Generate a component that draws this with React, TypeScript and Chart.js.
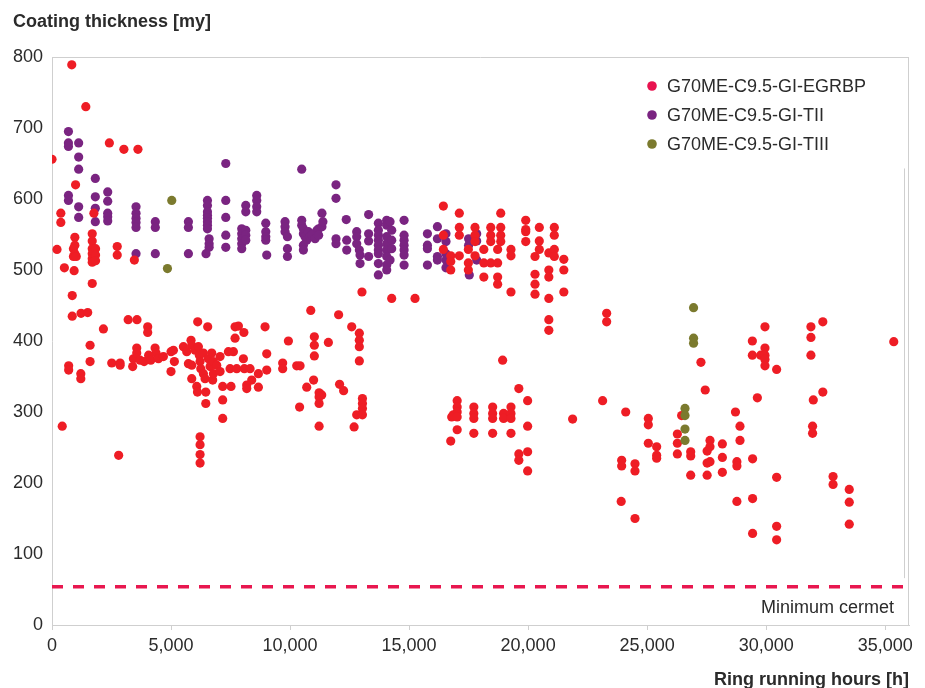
import React, { useEffect, useRef } from "react";
import { Chart, registerables } from "chart.js";

Chart.register(...registerables);

// Axis settings
const xMax = 36000;
const xTickValues = [0, 5000, 10000, 15000, 20000, 25000, 30000, 35000];
const yMax = 800;
const yStep = 100;

const seriesNames = ["G70ME-C9.5-GI-EGRBP", "G70ME-C9.5-GI-TII", "G70ME-C9.5-GI-TIII"];
const seriesColors = ["#ee1d25", "#7a2481", "#7b7a2e"];
const legendColors = ["#e8124f", "#7a2481", "#7b7a2e"];

const minimumCermet = 54;
const minimumCermetLabel = "Minimum cermet";
const yTitle = "Coating thickness [my]";
const xTitle = "Ring running hours [h]";

// [ring running hours, coating thickness]
const egrbpPoints: [number, number][] = [
  [0, 656], [430, 280], [210, 529], [370, 580], [370, 567], [520, 503], [830, 789], [1420, 730], [990, 620],
  [960, 546], [960, 535], [900, 530], [960, 523], [900, 519], [1020, 519], [930, 499],
  [850, 464], [850, 435], [1220, 439], [1500, 440],
  [1690, 551], [1690, 541], [1690, 530], [1690, 523], [1690, 516], [1690, 511], [1690, 481],
  [1830, 530], [1830, 521], [1830, 513], [1760, 580],
  [2160, 417], [2410, 679], [2740, 533], [2740, 521], [3020, 670], [3610, 670], [3460, 514],
  [3200, 430], [3570, 430], [4020, 420], [4020, 412],
  [700, 365], [700, 359], [1210, 354], [1210, 347], [1600, 394], [1600, 371],
  [2510, 369], [2860, 369], [2860, 366], [2800, 239],
  [3390, 364], [3420, 375], [3560, 390], [3560, 383], [3700, 373], [3870, 371], [4060, 380], [4150, 373],
  [4330, 390], [4370, 383], [4470, 375], [4680, 378], [5000, 385], [5000, 357], [5100, 387], [5140, 371],
  [5520, 392], [5660, 385], [5730, 368], [5840, 401], [5870, 394], [5870, 366], [5870, 347], [6010, 387],
  [6080, 336], [6110, 328], [6150, 392], [6190, 380], [6220, 371], [6250, 361], [6360, 383], [6360, 354],
  [6430, 347], [6460, 328], [6460, 312], [6570, 375], [6640, 364], [6710, 383], [6750, 345], [6780, 354],
  [6780, 371], [6920, 366], [7060, 378], [7060, 357], [7170, 336], [7170, 317], [7170, 291], [7410, 385],
  [7480, 361], [7520, 336], [7620, 385], [7760, 361],
  [6220, 265], [6220, 254], [6220, 240], [6220, 228],
  [6120, 427], [6540, 420], [7690, 420], [7830, 421], [7690, 404],
  [8950, 420], [8060, 412], [9930, 400], [11020, 406], [11020, 394], [11020, 379], [11610, 398],
  [10870, 443], [12040, 437], [12590, 420], [12910, 411], [12910, 401], [12910, 392], [12910, 372],
  [13020, 469], [14270, 460], [15250, 460], [9020, 382],
  [8040, 375], [8080, 361], [8320, 361], [8390, 345], [8180, 338], [8180, 333], [8670, 354], [8670, 335],
  [9020, 359], [9690, 369], [9690, 361], [10280, 365], [10420, 365], [10700, 335], [10400, 307], [10990, 345],
  [11220, 327], [11330, 324], [11220, 321], [11220, 312], [11220, 280], [12080, 339], [12250, 330], [12690, 279],
  [13040, 319], [13040, 312], [13040, 305], [12800, 296], [13040, 296],
  [16440, 590], [17110, 580], [18850, 580], [17110, 560], [17110, 549], [16440, 549], [16440, 529],
  [16750, 520], [16750, 512], [16750, 500], [17110, 520], [17490, 529], [17490, 510], [17490, 500],
  [17770, 560], [17770, 549], [17770, 540], [17770, 520], [18140, 529], [18140, 510], [18140, 490],
  [18430, 560], [18430, 549], [18430, 540], [18430, 510], [18720, 529], [18720, 510], [18720, 490], [18720, 480],
  [18850, 560], [18850, 549], [18850, 540], [19280, 529], [19280, 520], [19280, 469],
  [19900, 570], [19900, 557], [19900, 554], [19900, 540], [20290, 519], [20290, 494], [20290, 480], [20290, 466],
  [20470, 560], [20470, 541], [20470, 529], [20870, 524], [20870, 500], [20870, 490], [20870, 460],
  [20870, 430], [20870, 415], [21100, 560], [21100, 549], [21100, 529], [21100, 519],
  [21500, 515], [21500, 500], [21500, 469],
  [23300, 439], [23300, 427], [18930, 373], [19610, 333], [19980, 316], [19980, 280], [19610, 241], [19610, 232],
  [19980, 244], [19980, 217], [21870, 290], [23130, 316], [24100, 300],
  [17020, 316], [17020, 307], [17020, 300], [16860, 296], [16790, 293], [17020, 293], [16750, 259], [17020, 275],
  [17720, 307], [17720, 298], [17720, 291], [17720, 270], [18510, 307], [18510, 298], [18510, 291], [18510, 270],
  [18970, 298], [18970, 291], [19280, 307], [19280, 298], [19280, 291], [19280, 270],
  [25050, 291], [25050, 282], [25050, 256], [23930, 232], [23930, 224], [24490, 227], [24490, 217],
  [25400, 251], [25400, 239], [25400, 235], [23910, 174], [24490, 150], [26270, 269], [26270, 256], [26270, 241],
  [26450, 295], [26830, 244], [26830, 238], [26830, 211], [27260, 370], [27440, 331], [27640, 260], [27640, 251],
  [27520, 245], [27520, 228], [27640, 230], [27520, 211], [28160, 255], [28160, 236], [28160, 215], [28710, 300],
  [28900, 280], [28900, 260], [28770, 230], [28770, 224], [28770, 174], [29430, 234], [29430, 178], [29430, 129],
  [29420, 400], [29420, 380], [29630, 320],
  [29950, 420], [29770, 380], [29950, 390], [29950, 380], [29950, 374], [29950, 365], [30440, 360],
  [31880, 420], [31880, 405], [31880, 380], [32380, 427], [32380, 328], [31980, 317], [31950, 280], [31950, 270],
  [35360, 399], [30440, 208], [30440, 139], [30440, 120], [32810, 209], [32810, 198],
  [33490, 191], [33490, 173], [33490, 142],
];

const tiiPoints: [number, number][] = [
  [690, 695], [690, 679], [690, 674], [1120, 679], [1120, 659], [1120, 642], [690, 605], [690, 598],
  [1120, 589], [1120, 574], [1820, 629], [1820, 603], [1820, 587], [1820, 568],
  [2340, 610], [2340, 597], [2340, 580], [2340, 575], [2340, 569],
  [3530, 589], [3530, 580], [3530, 573], [3530, 567], [3530, 560], [4340, 568], [4340, 560],
  [5730, 568], [5730, 560], [3530, 523], [4340, 523], [5730, 523],
  [6530, 598], [6530, 591], [6530, 582], [6530, 577], [6530, 573], [6530, 568], [6530, 563], [6530, 558],
  [6600, 544], [6600, 537], [6600, 532], [6470, 523],
  [7300, 650], [7300, 598], [7300, 574], [7300, 549], [7300, 532],
  [8140, 591], [8140, 582], [7970, 558], [7970, 551], [7970, 544], [7970, 537], [7970, 530],
  [8140, 556], [8140, 549], [8140, 542],
  [8600, 605], [8600, 598], [8600, 589], [8600, 582],
  [8980, 566], [8980, 554], [8980, 547], [8980, 542], [9020, 521],
  [9790, 568], [9790, 561], [9790, 554], [9890, 547], [9890, 530], [9890, 519],
  [10490, 570], [10490, 563], [10560, 558], [10560, 551], [10630, 547], [10700, 542], [10560, 535], [10560, 528],
  [10770, 554], [10980, 551], [11130, 556], [11200, 558], [11340, 561], [11380, 568], [11340, 580],
  [10840, 547], [10910, 549], [11050, 544], [11200, 549],
  [10490, 642], [11930, 620], [11930, 601], [11930, 544], [11930, 537], [12360, 571], [12380, 542], [12380, 528],
  [12800, 554], [12800, 547], [12800, 537], [12910, 528], [12940, 521], [12940, 509],
  [13300, 578], [13300, 551], [13300, 541], [13300, 519],
  [13710, 566], [13710, 556], [13710, 549], [13710, 542], [13710, 535], [13710, 528], [13710, 523], [13710, 509], [13710, 493],
  [14060, 570], [14060, 563], [14060, 547], [14060, 537], [14060, 528], [14060, 519], [14060, 507], [14060, 500],
  [14200, 568], [14270, 556], [14270, 542], [14270, 530], [14200, 514],
  [14790, 570], [14790, 549], [14790, 542], [14790, 535], [14790, 528], [14790, 521], [14790, 507],
  [15770, 551], [15770, 535], [15770, 530], [15770, 507],
  [16190, 561], [16190, 544], [16190, 519], [16190, 514],
  [16550, 551], [16550, 540], [16550, 523], [16550, 514], [16550, 503],
  [17500, 544], [17500, 535], [17570, 540], [17530, 493],
  [17840, 551], [17840, 541], [17840, 514],
];

const tiiiPoints: [number, number][] = [
  [5030, 598], [4850, 502], [26950, 447], [26950, 404], [26950, 397],
  [26590, 305], [26590, 295], [26590, 276], [26590, 260],
];

const FONT = "'Liberation Sans', Arial, Helvetica, sans-serif";
const TEXT = "#2b2b2b";
const FRAME = "#cfcfcf";

const withCommas = (v: number) => String(v).replace(/\B(?=(\d{3})+(?!\d))/g, ",");

const toXY = (pts: [number, number][]) => pts.map(([x, y]) => ({ x, y }));

// Plot frame: top and right edges plus the faint inner rule near the right side
const framePlugin = {
  id: "frame",
  beforeDatasetsDraw(chart: any) {
    const { ctx, chartArea } = chart;
    const { left, right, top, bottom } = chartArea;
    ctx.save();
    ctx.strokeStyle = FRAME;
    ctx.lineWidth = 1;
    ctx.beginPath();
    ctx.moveTo(left, top + 0.5);
    ctx.lineTo(right, top + 0.5);
    ctx.moveTo(right - 0.5, top);
    ctx.lineTo(right - 0.5, bottom);
    ctx.stroke();
    const yS = chart.scales.y;
    ctx.beginPath();
    ctx.moveTo(right - 4.5, yS.getPixelForValue(643));
    ctx.lineTo(right - 4.5, yS.getPixelForValue(66));
    ctx.stroke();
    ctx.restore();
  },
};

// Titles, legend and the minimum-cermet label
const textPlugin = {
  id: "texts",
  afterDraw(chart: any) {
    const { ctx, chartArea } = chart;
    ctx.save();
    ctx.fillStyle = TEXT;
    ctx.font = `bold 18px ${FONT}`;
    ctx.textBaseline = "alphabetic";
    ctx.textAlign = "left";
    ctx.fillText(yTitle, 13, 27);
    ctx.textAlign = "right";
    ctx.fillText(xTitle, chartArea.right, 685);

    ctx.font = `18px ${FONT}`;
    const yS = chart.scales.y;
    ctx.fillText(minimumCermetLabel, chartArea.right - 15, yS.getPixelForValue(minimumCermet) + 26);

    ctx.textAlign = "left";
    ctx.textBaseline = "middle";
    seriesNames.forEach((name, i) => {
      const cy = 86 + i * 29;
      ctx.fillStyle = legendColors[i];
      ctx.beginPath();
      ctx.arc(652, cy, 4.8, 0, Math.PI * 2);
      ctx.fill();
      ctx.fillStyle = TEXT;
      ctx.fillText(name, 667, cy + 1);
    });
    ctx.restore();
  },
};

export default function App() {
  const canvasRef = useRef<HTMLCanvasElement | null>(null);

  useEffect(() => {
    if (!canvasRef.current) return;
    const pointStyle = (i: number) => ({
      backgroundColor: seriesColors[i],
      borderWidth: 0,
      pointRadius: 4.6,
      pointHoverRadius: 4.6,
      showLine: false,
      clip: 0,
    });
    const chart = new Chart(canvasRef.current, {
      type: "scatter",
      data: {
        datasets: [
          { label: seriesNames[0], data: toXY(egrbpPoints), order: 1, ...pointStyle(0) },
          { label: seriesNames[1], data: toXY(tiiPoints), order: 2, ...pointStyle(1) },
          { label: seriesNames[2], data: toXY(tiiiPoints), order: 0, ...pointStyle(2) },
          {
            type: "line",
            label: minimumCermetLabel,
            data: [
              { x: 0, y: minimumCermet },
              { x: xMax, y: minimumCermet },
            ],
            borderColor: "#e8174f",
            borderWidth: 3.5,
            borderDash: [11, 10],
            pointRadius: 0,
            showLine: true,
            fill: false,
            order: 3,
          } as any,
        ],
      },
      options: {
        responsive: false,
        animation: false,
        layout: { padding: { top: 57, right: 16, left: 0, bottom: 0 } },
        plugins: {
          legend: { display: false },
          tooltip: { enabled: false },
          title: { display: false },
        },
        scales: {
          x: {
            type: "linear",
            min: 0,
            max: xMax,
            afterFit: (s: any) => {
              s.height = 63;
            },
            afterBuildTicks: (s: any) => {
              s.ticks = xTickValues.map((value) => ({ value }));
            },
            grid: {
              display: true,
              drawOnChartArea: false,
              drawTicks: true,
              tickLength: 5,
              color: FRAME,
            },
            border: { display: true, color: FRAME, width: 1 },
            ticks: {
              padding: 5,
              maxRotation: 0,
              minRotation: 0,
              autoSkip: false,
              color: TEXT,
              font: { family: FONT, size: 18 },
              callback: (v: any) => withCommas(Number(v)),
            },
          },
          y: {
            type: "linear",
            min: 0,
            max: yMax,
            afterFit: (s: any) => {
              s.width = 52;
            },
            grid: { display: false, drawTicks: false },
            border: { display: true, color: FRAME, width: 1 },
            ticks: {
              stepSize: yStep,
              padding: 9,
              color: TEXT,
              font: { family: FONT, size: 18 },
              callback: (v: any) => String(v),
            },
          },
        },
      },
      plugins: [framePlugin, textPlugin],
    });
    return () => chart.destroy();
  }, []);

  return (
    <div style={{ position: "absolute", left: 0, top: 0, width: 925, height: 688, background: "#fff" }}>
      <canvas ref={canvasRef} width={925} height={688} style={{ display: "block" }} />
    </div>
  );
}
